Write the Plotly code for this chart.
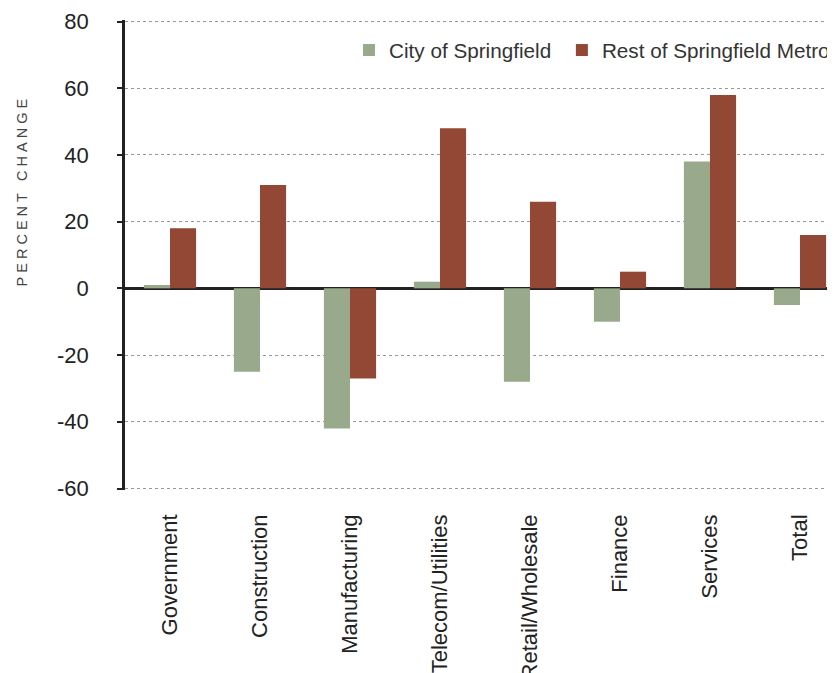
import plotly.graph_objects as go

categories = ["Government", "Construction", "Manufacturing", "Telecom/Utilities",
              "Retail/Wholesale", "Finance", "Services", "Total"]
city_values = [1, -25, -42, 2, -28, -10, 38, -5]
metro_values = [18, 31, -27, 48, 26, 5, 58, 16]
y_ticks = [-60, -40, -20, 0, 20, 40, 60, 80]
y_tick_labels = ["-60", "-40", "-20", "0", "20", "40", "60", "80"]
series_names = ["City of Springfield", "Rest of Springfield Metro"]

GREEN = "#98AA8B"
RED = "#934835"
FONT = "Liberation Sans, Arial, sans-serif"

fig = go.Figure()
fig.add_trace(go.Bar(x=categories, y=city_values, name=series_names[0] + "\u00a0",
                     marker=dict(color=GREEN, line=dict(width=0))))
fig.add_trace(go.Bar(x=categories, y=metro_values, name=series_names[1],
                     marker=dict(color=RED, line=dict(width=0))))

n = len(categories)
x_range = [-0.5, n - 0.611]
pad = 0.45
ymin, ymax = y_ticks[0] - pad, y_ticks[-1] + pad

fig.update_layout(
    width=835, height=673,
    margin=dict(l=117, r=8, t=12, b=191, autoexpand=False),
    paper_bgcolor="white", plot_bgcolor="white",
    barmode="group", bargap=0.42, bargroupgap=0,
    font=dict(family=FONT, color="#222"),
    showlegend=True,
    legend=dict(orientation="h", x=0.3155, xanchor="left", y=0.936, yanchor="middle",
                font=dict(family=FONT, size=20.7, color="#333"),
                bgcolor="rgba(0,0,0,0)", itemclick=False, tracegroupgap=0),
    xaxis=dict(type="category", range=x_range, showline=False, showgrid=False,
               ticks="", tickangle=-90, ticklabelstandoff=19, automargin=False,
               tickfont=dict(family=FONT, size=22, color="#222"), zeroline=False),
    xaxis2=dict(overlaying="x", anchor="free", position=(0 - ymin) / (ymax - ymin),
                range=x_range, tickmode="array",
                tickvals=[i + 0.5 for i in range(n - 1)], automargin=False,
                showticklabels=False, ticks="outside", ticklen=5, tickwidth=1.5,
                tickcolor="#333", showline=False, showgrid=False, zeroline=False),
    yaxis=dict(range=[ymin, ymax], tickmode="array", tickvals=y_ticks,
               ticktext=y_tick_labels, automargin=False,
               showline=True, linecolor="#222", linewidth=2.5,
               ticks="outside", ticklen=5, tickwidth=1.5, tickcolor="#222",
               ticklabelstandoff=24,
               tickfont=dict(family=FONT, size=22, color="#222"),
               showgrid=True, gridcolor="#999", gridwidth=1, griddash="dot",
               zeroline=True, zerolinecolor="#222", zerolinewidth=2.5),
)

title_text = "\u00a0".join(list("PERCENT")) + "\u00a0\u00a0\u00a0" + "\u00a0".join(list("CHANGE"))
fig.add_annotation(text=title_text, xref="paper", yref="paper",
                   x=-(117 - 14) / 710, y=0.633, textangle=-90,
                   showarrow=False, xanchor="center", yanchor="middle",
                   font=dict(family=FONT, size=14.5, color="#444"))

fig.write_html("out.html")
